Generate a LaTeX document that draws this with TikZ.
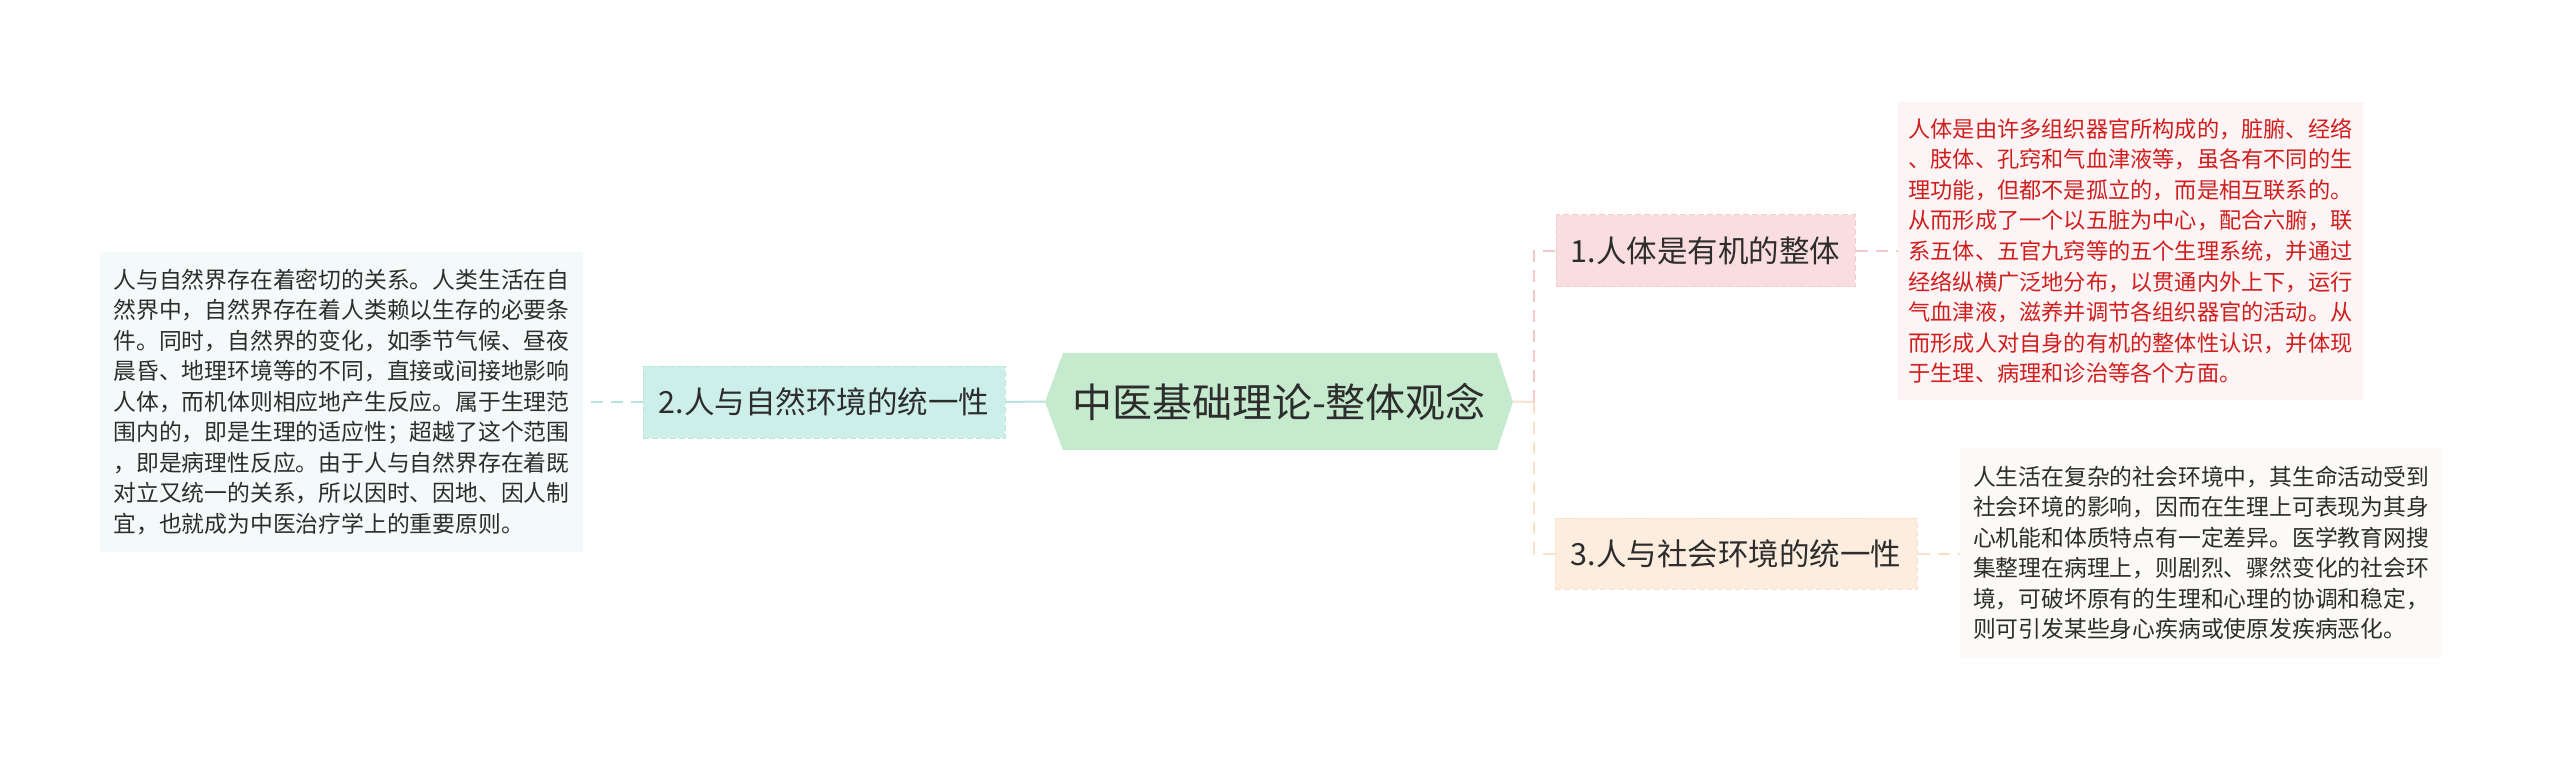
\documentclass[tikz,border=0pt]{standalone}
\usepackage{fontspec}
\setmainfont{Noto Sans CJK SC}
\definecolor{txtdark}{RGB}{45,45,45}
\definecolor{txtred}{RGB}{208,30,30}
\definecolor{cgreen}{RGB}{197,234,205}
\definecolor{tealfill}{RGB}{205,239,233}
\definecolor{tealedge}{RGB}{190,228,222}
\definecolor{tealline}{RGB}{182,228,220}
\definecolor{pinkfill}{RGB}{250,221,222}
\definecolor{pinkedge}{RGB}{245,205,207}
\definecolor{pinkline}{RGB}{245,200,203}
\definecolor{peachfill}{RGB}{253,237,223}
\definecolor{peachedge}{RGB}{250,225,205}
\definecolor{peachline}{RGB}{251,225,202}
\definecolor{lboxfill}{RGB}{244,250,250}
\definecolor{rtboxfill}{RGB}{253,245,245}
\definecolor{rbboxfill}{RGB}{252,250,246}
\tikzset{
  topic/.style={rectangle, inner sep=0pt, font=\fontsize{30.5}{30.5}\selectfont, text=txtdark, line width=1pt, dash pattern=on 6pt off 3pt},
  centertxt/.style={rectangle, inner sep=0pt, font=\fontsize{40}{40}\selectfont, text=txtdark},
  note/.style={rectangle, inner sep=0pt, align=left, font=\fontsize{22.8}{30.5}\selectfont, text=txtdark},
  link/.style={line width=2pt},
  dlink/.style={line width=2pt, dash pattern=on 12pt off 8pt},
}
\begin{document}
\begin{tikzpicture}[x=1pt,y=-1pt]
\useasboundingbox (0,0) rectangle (2560,759);
\fill[white] (0,0) rectangle (2560,759);

% central hexagon
\fill[cgreen] (1045,402) -- (1063,353) -- (1497,353) -- (1513,402) -- (1497,450) -- (1063,450) -- cycle;
\node[centertxt, minimum width=468, minimum height=97] (c) at (1279,401.5) {中医基础理论-整体观念};

% topics
\node[topic, fill=tealfill, draw=tealedge, minimum width=362, minimum height=72] (n2) at (824,402) {2.人与自然环境的统一性};
\node[topic, fill=pinkfill, draw=pinkedge, minimum width=299, minimum height=72] (n1) at (1705.5,251) {1.人体是有机的整体};
\node[topic, fill=peachfill, draw=peachedge, minimum width=362, minimum height=71] (n3) at (1736,553.5) {3.人与社会环境的统一性};

% notes
\node[note, fill=lboxfill, minimum width=483, minimum height=300] (l) at (341.5,402) {人与自然界存在着密切的关系。人类生活在自\\然界中，自然界存在着人类赖以生存的必要条\\件。同时，自然界的变化，如季节气候、昼夜\\晨昏、地理环境等的不同，直接或间接地影响\\人体，而机体则相应地产生反应。属于生理范\\围内的，即是生理的适应性；超越了这个范围\\，即是病理性反应。由于人与自然界存在着既\\对立又统一的关系，所以因时、因地、因人制\\宜，也就成为中医治疗学上的重要原则。};
\node[note, fill=rtboxfill, text=txtred, font=\fontsize{22.2}{30.6}\selectfont, minimum width=465, minimum height=298] (rt) at (2130.5,251) {人体是由许多组织器官所构成的，脏腑、经络\\、肢体、孔窍和气血津液等，虽各有不同的生\\理功能，但都不是孤立的，而是相互联系的。\\从而形成了一个以五脏为中心，配合六腑，联\\系五体、五官九窍等的五个生理系统，并通过\\经络纵横广泛地分布，以贯通内外上下，运行\\气血津液，滋养并调节各组织器官的活动。从\\而形成人对自身的有机的整体性认识，并体现\\于生理、病理和诊治等各个方面。};
\node[note, fill=rbboxfill, minimum width=482, minimum height=210] (rb) at (2201,553) {人生活在复杂的社会环境中，其生命活动受到\\社会环境的影响，因而在生理上可表现为其身\\心机能和体质特点有一定差异。医学教育网搜\\集整理在病理上，则剧烈、骤然变化的社会环\\境，可破坏原有的生理和心理的协调和稳定，\\则可引发某些身心疾病或使原发疾病恶化。};

% connectors
\coordinate (j) at (1534,402);
\draw[link, tealline] (c.west) -- (n2.east);
\draw[dlink, tealline] (n2.west) -- (l.east);
\draw[link, peachline] (c.east) -- (j);
\draw[dlink, pinkline] (j) |- (n1.west);
\draw[dlink, peachline] (j) |- (n3.west);
\draw[dlink, pinkline] (n1.east) -- (rt.west |- n1.east);
\draw[dlink, peachline] (n3.east) -- (rb.west |- n3.east);
\end{tikzpicture}
\end{document}
